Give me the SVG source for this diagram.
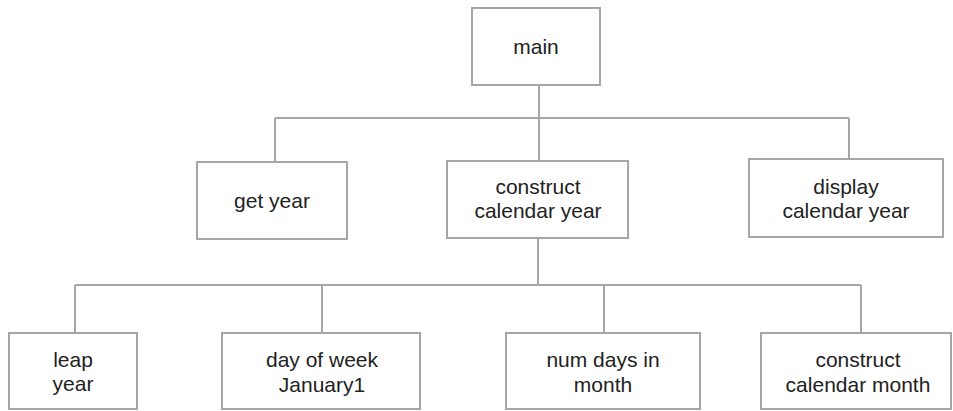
<svg xmlns="http://www.w3.org/2000/svg" width="953" height="411" viewBox="0 0 953 411">
<style>
.box{fill:#fff;stroke:#a6a6a6;stroke-width:2}
.ln{fill:none;stroke:#a6a6a6;stroke-width:2}
text{font-family:"Liberation Sans",Arial,sans-serif;font-size:21px;fill:#222;text-anchor:middle}
</style>
<rect width="953" height="411" fill="#fff"/>
<g id="connectors">
<path class="ln" d="M539 85V161M275 118H849M275 118V162M849 118V159"/>
<path class="ln" d="M538 238V285M75 285H861M75 285V333M322 285V333M604 285V333M861 285V333"/>
</g>
<g id="main"><rect class="box" x="472" y="8" width="128" height="77"/><text x="536" y="54">main</text></g>
<g id="getyear"><rect class="box" x="197" y="162" width="150" height="77"/><text x="272" y="208">get year</text></g>
<g id="constructyear"><rect class="box" x="447" y="161" width="181" height="77"/><text x="538" y="194">construct</text><text x="538" y="218">calendar year</text></g>
<g id="displayyear"><rect class="box" x="749" y="159" width="194" height="78"/><text x="846" y="194">display</text><text x="846" y="218">calendar year</text></g>
<g id="leapyear"><rect class="box" x="9" y="333" width="128" height="76"/><text x="73" y="367">leap</text><text x="73" y="391">year</text></g>
<g id="dayofweek"><rect class="box" x="222" y="333" width="198" height="76"/><text x="322" y="367">day of week</text><text x="322" y="392">January1</text></g>
<g id="numdays"><rect class="box" x="506" y="333" width="194" height="76"/><text x="603" y="367">num days in</text><text x="603" y="392">month</text></g>
<g id="constructmonth"><rect class="box" x="761" y="333" width="190" height="76"/><text x="858" y="367">construct</text><text x="858" y="392">calendar month</text></g>
</svg>
